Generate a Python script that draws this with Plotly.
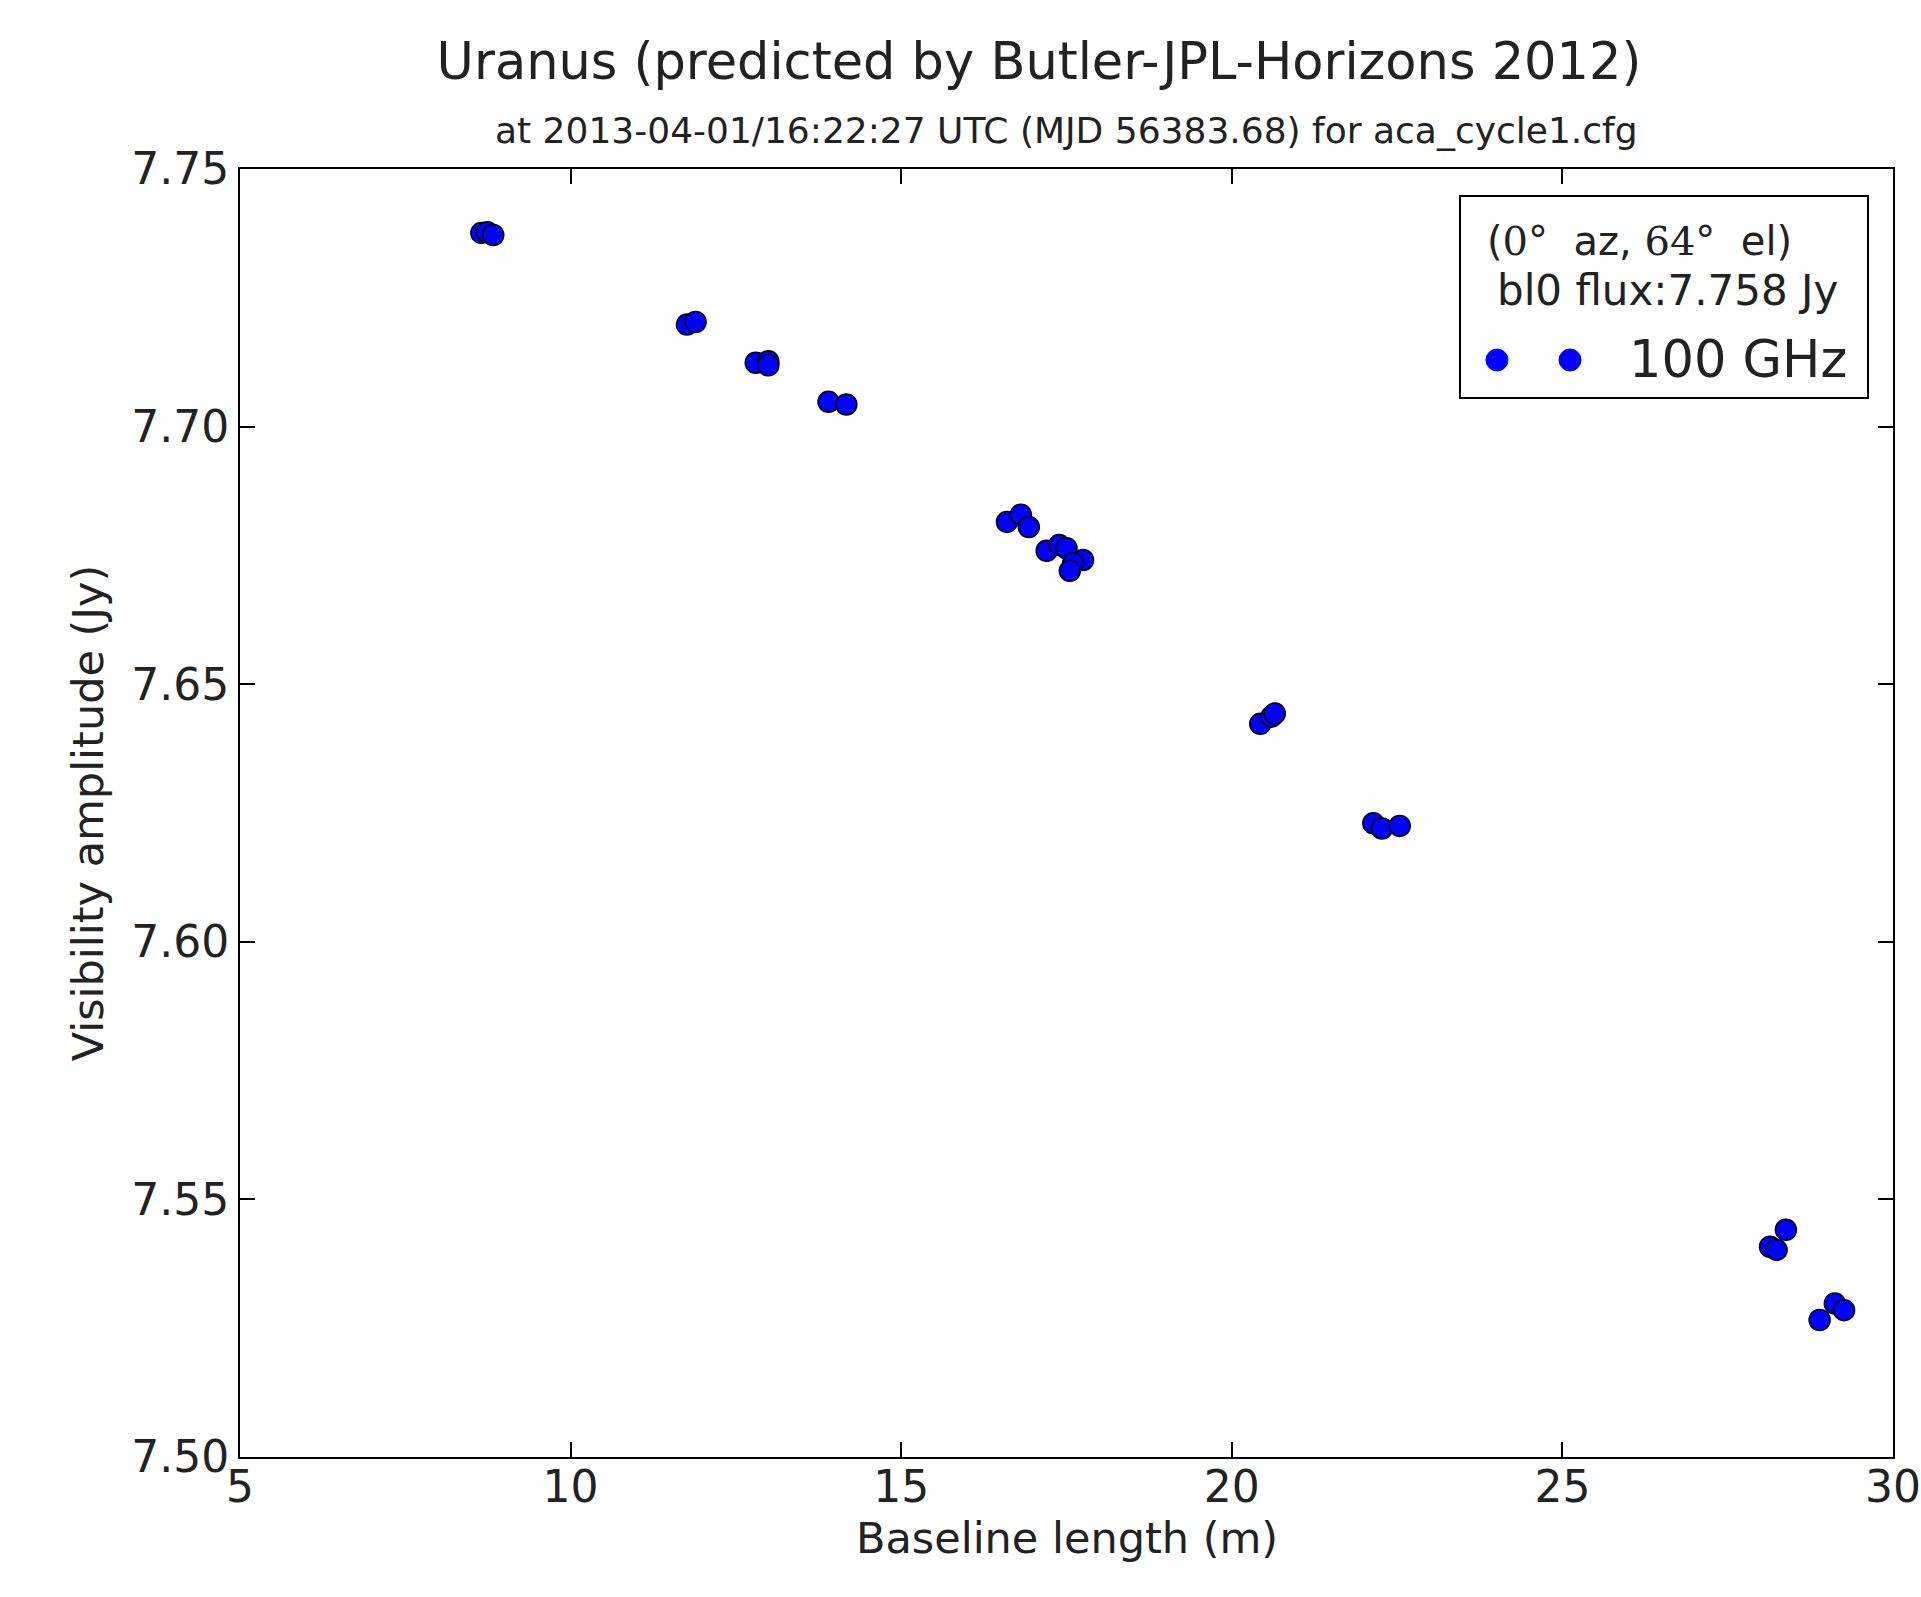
import plotly.graph_objects as go

# baselines (m) and visibility amplitudes (Jy)
baseline_m = [8.65, 8.74, 8.83, 11.76, 11.89, 12.80, 12.99, 12.99, 13.90, 14.17,
              16.60, 16.81, 16.93, 17.20, 17.39, 17.50, 17.75, 17.60, 17.55,
              20.43, 20.60, 20.65, 22.14, 22.27, 22.54,
              28.14, 28.24, 28.38, 28.89, 29.12, 29.26]
amplitude_jy = [7.7376, 7.7377, 7.7372, 7.7198, 7.7203, 7.7124, 7.7127, 7.7119, 7.7048, 7.7043,
                7.6815, 7.6829, 7.6805, 7.6759, 7.6770, 7.6764, 7.6741, 7.6735, 7.6720,
                7.6423, 7.6437, 7.6443, 7.6230, 7.6220, 7.6225,
                7.5408, 7.5402, 7.5441, 7.5266, 7.5298, 7.5285]

x_ticks = [5, 10, 15, 20, 25, 30]
y_ticks = [7.50, 7.55, 7.60, 7.65, 7.70, 7.75]
y_ticklabels = ["7.50", "7.55", "7.60", "7.65", "7.70", "7.75"]

title = "Uranus (predicted by Butler-JPL-Horizons 2012)"
subtitle = "at 2013-04-01/16:22:27 UTC (MJD 56383.68) for aca_cycle1.cfg"
x_title = "Baseline length (m)"
y_title = "Visibility amplitude (Jy)"
freq_label = "100 GHz"

W, H = 1921, 1597
# plot box in pixels
PL, PR, PT, PB = 240, 1893, 169, 1457
FONT = "DejaVu Sans"
INK = "#222222"

fig = go.Figure()
fig.add_trace(go.Scatter(
    x=baseline_m, y=amplitude_jy, mode="markers", name=freq_label, showlegend=False,
    marker=dict(size=21, color="#0000ff", line=dict(color="#000000", width=1.5)),
))

axis_common = dict(
    showgrid=False, zeroline=False, showline=True, linecolor="#000000", linewidth=2,
    mirror="allticks", ticks="inside", ticklen=15, tickwidth=1.5, tickcolor="#000000",
    tickfont=dict(family=FONT, size=44, color=INK), ticklabeloverflow="allow", automargin=False,
)
fig.update_xaxes(range=[5, 30], tickvals=x_ticks, ticklabelstandoff=-10, **axis_common)
fig.update_yaxes(range=[7.50, 7.75], tickvals=y_ticks, ticktext=y_ticklabels, **axis_common,
                 title=dict(text=y_title, font=dict(family=FONT, size=43, color=INK), standoff=14))

fig.update_layout(
    width=W, height=H,
    margin=dict(l=PL, r=W - PR, t=PT, b=H - PB),
    paper_bgcolor="white", plot_bgcolor="white",
    title=dict(text=title, x=1039 / W, xanchor="center", y=1 - 61 / H, yanchor="middle",
               font=dict(family=FONT, size=51, color=INK)),
)

pw, ph = PR - PL, PB - PT
def px_x(v): return (v - PL) / pw
def px_y(v): return 1 - (v - PT) / ph

fig.add_annotation(text=subtitle, xref="paper", yref="paper", x=0.5, y=px_y(130),
                   xanchor="center", yanchor="middle", showarrow=False,
                   font=dict(family=FONT, size=36, color=INK))
fig.add_annotation(text=x_title, xref="paper", yref="paper", x=0.5, y=px_y(1538),
                   xanchor="center", yanchor="middle", showarrow=False,
                   font=dict(family=FONT, size=43, color=INK))

# legend box drawn by hand (matplotlib style, two markers)
fig.add_shape(type="rect", xref="paper", yref="paper",
              x0=px_x(1460), x1=px_x(1868), y0=px_y(398), y1=px_y(196),
              line=dict(color="#000000", width=2), fillcolor="white", layer="above")
fig.add_annotation(xref="paper", yref="paper", x=px_x(1485), y=px_y(241), xanchor="left", yanchor="middle",
                   showarrow=False, font=dict(family=FONT, size=40, color=INK),
                   text='(<span style="font-family:DejaVu Serif">0</span>°  az, '
                        '<span style="font-family:DejaVu Serif">64</span>°  el)')
fig.add_annotation(xref="paper", yref="paper", x=px_x(1495), y=px_y(290), xanchor="left", yanchor="middle",
                   showarrow=False, font=dict(family=FONT, size=42, color=INK), text="bl0 flux:7.758 Jy")
for cx in (1497, 1570):
    fig.add_shape(type="circle", xref="paper", yref="paper",
                  x0=px_x(cx - 11), x1=px_x(cx + 11), y0=px_y(360 + 11), y1=px_y(360 - 11),
                  line=dict(color="#0000ff", width=1), fillcolor="#0000ff", layer="above")
fig.add_annotation(xref="paper", yref="paper", x=px_x(1627), y=px_y(360), xanchor="left", yanchor="middle",
                   showarrow=False, font=dict(family=FONT, size=51, color=INK), text=freq_label)

# drop the browser's default 8px body margin so the figure fills the window exactly
fig.write_html("out.html", config={"displayModeBar": False},
               post_script="document.body.style.margin='0';")
